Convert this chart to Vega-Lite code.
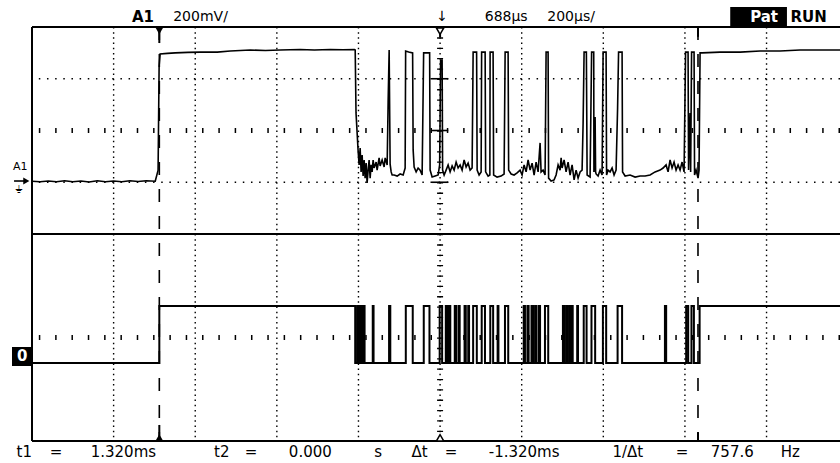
{
"$schema": "https://vega.github.io/schema/vega-lite/v6.json",
"autosize": {"type": "none"},
"padding": {"left": 32, "top": 27, "right": 0, "bottom": 22},
"width": 808,
"height": 414,
"background": "white",
"config": {"view": {"stroke": null}},
"datasets": {
"vgrid": [{"t":-112},{"t":88},{"t":288},{"t":488},{"t":888},{"t":1088},{"t":1288},{"t":1488}],
"center": [{"t":688}],
"frameh": [{"d":0},{"d":4},{"d":8}],
"framev": [{"t":-312}],
"dotrows": [{"d":5},{"d":7}],
"tickrows": [{"d":2},{"d":6}],
"cursors": [{"t":0},{"t":1320}],
"stems": [{"t":0,"a":8,"b":7.69},{"t":0,"a":0,"b":0.31},{"t":1320,"a":8,"b":7.81},{"t":1320,"a":0,"b":0.17},{"t":688,"a":8,"b":7.8}],
"crosses": [{"t":668,"t2":708,"d":5},{"t":668,"t2":708,"d":6},{"t":668,"t2":708,"d":7},{"t":-356,"t2":-331,"d":5.024}],
"markers": [{"t":0,"d":7.93,"k":"fd"},{"t":0,"d":0.06,"k":"fu"},{"t":688,"d":7.92,"k":"hd"},{"t":688,"d":0.06,"k":"hu"},{"t":-326,"d":5.024,"k":"r"}],
"boxes": [{"t":1399,"t2":1538,"d":8.386,"d2":8.02},{"t":-361,"t2":-312,"d":1.816,"d2":1.449}],
"labels": [
{"t":-40,"d":8.19,"txt":"A1","k":"hb"},
{"t":101,"d":8.19,"txt":"200mV/","k":"h"},
{"t":693,"d":8.19,"txt":"↓","k":"h"},
{"t":850,"d":8.19,"txt":"688µs","k":"h"},
{"t":1009,"d":8.19,"txt":"200µs/","k":"h"},
{"t":1482,"d":8.2,"txt":"Pat","k":"w"},
{"t":1591,"d":8.2,"txt":"RUN","k":"hb"},
{"t":-336,"d":1.633,"txt":"0","k":"w"},
{"t":-341,"d":5.295,"txt":"A1","k":"s"},
{"t":-344,"d":4.85,"txt":"⏚","k":"s"},
{"t":-331,"d":-0.203,"txt":"t1","k":"f"},
{"t":-253,"d":-0.203,"txt":"=","k":"f"},
{"t":-88,"d":-0.203,"txt":"1.320ms","k":"f"},
{"t":153,"d":-0.203,"txt":"t2","k":"f"},
{"t":225,"d":-0.203,"txt":"=","k":"f"},
{"t":370,"d":-0.203,"txt":"0.000","k":"f"},
{"t":536,"d":-0.203,"txt":"s","k":"f"},
{"t":638,"d":-0.203,"txt":"Δt","k":"f"},
{"t":715,"d":-0.203,"txt":"=","k":"f"},
{"t":894,"d":-0.203,"txt":"-1.320ms","k":"f"},
{"t":1148,"d":-0.203,"txt":"1/Δt","k":"f"},
{"t":1281,"d":-0.203,"txt":"=","k":"f"},
{"t":1404,"d":-0.203,"txt":"757.6","k":"f"},
{"t":1546,"d":-0.203,"txt":"Hz","k":"f"}
],
"analog": [
{"t":-312,"v":0.004},{"t":-292,"v":0.002},{"t":-272,"v":0.005},{"t":-252,"v":0.002},{"t":-232,"v":0.006},{"t":-212,"v":0.002},{"t":-192,"v":0.005},{"t":-172,"v":0.001},{"t":-152,"v":0.006},{"t":-132,"v":0.002},{"t":-112,"v":0.005},{"t":-92,"v":0.002},{"t":-72,"v":0.006},{"t":-52,"v":0.003},{"t":-32,"v":0.006},{"t":-10,"v":0.004},
{"t":-3,"v":0.047},{"t":-0.5,"v":0.45},{"t":2,"v":0.496},{"t":20,"v":0.498},{"t":39,"v":0.5},{"t":70,"v":0.502},{"t":100,"v":0.503},{"t":142,"v":0.503},{"t":174,"v":0.507},{"t":223,"v":0.511},{"t":260,"v":0.509},{"t":296,"v":0.511},{"t":345,"v":0.513},{"t":380,"v":0.511},{"t":419,"v":0.513},{"t":450,"v":0.512},{"t":478,"v":0.513},
{"t":480,"v":0.511},{"t":482,"v":0.268},{"t":485,"v":0.183},{"t":487,"v":0.125},
{"t":489.6,"v":0.067},{"t":492.1,"v":0.132},{"t":494.5,"v":0.04},{"t":497,"v":0.105},{"t":499.4,"v":0.024},{"t":501.9,"v":0.086},{"t":504.3,"v":0.016},{"t":506.8,"v":0.074},{"t":509.2,"v":-0.003},{"t":511.7,"v":0.047},{"t":514.1,"v":0.086},{"t":516.6,"v":0.016},{"t":519,"v":0.067},{"t":521.5,"v":0.04},{"t":523.9,"v":0.086},{"t":526.4,"v":0.055},{"t":531.3,"v":0.078},{"t":533.7,"v":0.047},{"t":538.6,"v":0.094},{"t":541.1,"v":0.063},{"t":546,"v":0.086},{"t":550.9,"v":0.059},{"t":553.4,"v":0.094},{"t":558.3,"v":0.067},{"t":560.7,"v":0.31},{"t":563.2,"v":0.511},{"t":565.6,"v":0.07},{"t":568.1,"v":0.04},{"t":570.5,"v":0.028},{"t":575.4,"v":0.028},{"t":582.8,"v":0.024},{"t":590.1,"v":0.032},{"t":597.5,"v":0.028},{"t":602.4,"v":0.055},
{"t":603.6,"v":0.507},{"t":611,"v":0.503},{"t":620.7,"v":0.5},{"t":622,"v":0.125},{"t":624.4,"v":0.059},{"t":629.3,"v":0.04},{"t":634.2,"v":0.055},{"t":639.1,"v":0.047},{"t":644,"v":0.028},
{"t":647.7,"v":0.5},{"t":655,"v":0.5},{"t":662.4,"v":0.5},{"t":663.6,"v":0.047},{"t":668.5,"v":0.02},{"t":675.9,"v":0.024},{"t":683.2,"v":0.028},{"t":686.9,"v":0.067},
{"t":689.3,"v":0.472},{"t":693,"v":0.472},{"t":694.2,"v":0.047},{"t":697.9,"v":0.028},{"t":702.8,"v":0.047},{"t":707.7,"v":0.067},{"t":712.6,"v":0.04},{"t":717.5,"v":0.063},{"t":722.4,"v":0.047},{"t":727.3,"v":0.078},{"t":732.2,"v":0.055},{"t":737.1,"v":0.067},{"t":742,"v":0.047},{"t":746.9,"v":0.086},{"t":751.8,"v":0.059},{"t":756.7,"v":0.074},{"t":761.6,"v":0.047},{"t":766.5,"v":0.055},
{"t":769,"v":0.503},{"t":777.5,"v":0.503},{"t":778.8,"v":0.047},{"t":783.6,"v":0.028},{"t":788.6,"v":0.04},
{"t":789.8,"v":0.503},{"t":798.4,"v":0.503},{"t":799.6,"v":0.04},{"t":805.7,"v":0.024},{"t":810,"v":0.028},
{"t":810.6,"v":0.503},{"t":817.9,"v":0.503},{"t":819.2,"v":0.028},{"t":827.7,"v":0.02},{"t":837.5,"v":0.024},{"t":844.9,"v":0.032},
{"t":847.4,"v":0.503},{"t":854.7,"v":0.503},{"t":856,"v":0.047},{"t":862.1,"v":0.032},{"t":869.4,"v":0.028},{"t":876.8,"v":0.036},{"t":884.1,"v":0.047},{"t":889,"v":0.028},{"t":893.9,"v":0.067},{"t":898.8,"v":0.04},{"t":903.7,"v":0.086},{"t":908.6,"v":0.047},{"t":913.5,"v":0.074},{"t":918.4,"v":0.028},{"t":923.3,"v":0.078},{"t":928.2,"v":0.04},{"t":933.1,"v":0.152},{"t":935.5,"v":0.04},{"t":940.4,"v":0.047},{"t":945.3,"v":0.028},
{"t":947.8,"v":0.503},{"t":952.7,"v":0.503},{"t":953.9,"v":0.016},{"t":960.1,"v":0.005},{"t":967.4,"v":0.009},{"t":972.3,"v":0.028},{"t":977.2,"v":0.067},{"t":982.1,"v":0.047},{"t":984.6,"v":0.094},{"t":987,"v":0.055},{"t":991.9,"v":0.086},{"t":996.8,"v":0.04},{"t":1001.7,"v":0.078},{"t":1006.6,"v":0.028},{"t":1011.5,"v":0.067},{"t":1016.4,"v":0.009},{"t":1021.3,"v":0.047},{"t":1026.2,"v":0.016},{"t":1031.1,"v":0.04},{"t":1036,"v":0.047},
{"t":1038.5,"v":0.229},{"t":1040.9,"v":0.503},{"t":1046.5,"v":0.503},{"t":1048.3,"v":0.028},{"t":1055.6,"v":0.02},
{"t":1059.3,"v":0.503},{"t":1064.5,"v":0.503},{"t":1065,"v":0.04},{"t":1067.9,"v":0.252},{"t":1069.1,"v":0.04},{"t":1070.3,"v":0.032},{"t":1075.2,"v":0.024},{"t":1080.1,"v":0.047},{"t":1085,"v":0.028},
{"t":1087.5,"v":0.503},{"t":1094.8,"v":0.503},{"t":1096,"v":0.028},{"t":1099.7,"v":0.047},{"t":1104.6,"v":0.04},{"t":1109.5,"v":0.055},{"t":1114.4,"v":0.028},{"t":1119.3,"v":0.047},{"t":1123,"v":0.287},{"t":1125.4,"v":0.503},{"t":1134,"v":0.503},{"t":1135.2,"v":0.04},{"t":1141.4,"v":0.024},{"t":1153.6,"v":0.028},{"t":1165.9,"v":0.02},{"t":1178.1,"v":0.024},{"t":1190.4,"v":0.024},{"t":1202.6,"v":0.028},{"t":1214.9,"v":0.04},{"t":1227.1,"v":0.047},{"t":1234.5,"v":0.055},{"t":1241.8,"v":0.067},{"t":1246.7,"v":0.04},{"t":1251.6,"v":0.086},{"t":1256.5,"v":0.055},{"t":1261.4,"v":0.078},{"t":1266.3,"v":0.047},{"t":1271.2,"v":0.067},{"t":1276.1,"v":0.047},{"t":1281,"v":0.078},{"t":1285.9,"v":0.04},
{"t":1289.6,"v":0.503},{"t":1295.7,"v":0.503},{"t":1296.9,"v":0.047},{"t":1300.6,"v":0.268},{"t":1302,"v":0.04},{"t":1304.3,"v":0.503},{"t":1310.4,"v":0.503},{"t":1311.6,"v":0.028},{"t":1315.3,"v":0.047},{"t":1320.2,"v":0.016},{"t":1322.6,"v":0.047},{"t":1325.1,"v":0.5},{"t":1330,"v":0.5},{"t":1374.1,"v":0.503},{"t":1423.1,"v":0.503},{"t":1472.1,"v":0.507},{"t":1521.1,"v":0.507},{"t":1570.1,"v":0.511},{"t":1619.1,"v":0.511},{"t":1668,"v":0.511}
],
"digital": [
{"t":-312,"s":0},{"t":0,"s":0},{"t":0,"s":1},{"t":480,"s":1},{"t":480,"s":0},
{"t":485,"s":0},{"t":485,"s":1},{"t":488,"s":1},{"t":488,"s":0},
{"t":492,"s":0},{"t":492,"s":1},{"t":496,"s":1},{"t":496,"s":0},
{"t":499,"s":0},{"t":499,"s":1},{"t":503,"s":1},{"t":503,"s":0},
{"t":523,"s":0},{"t":523,"s":1},{"t":525,"s":1},{"t":525,"s":0},
{"t":563,"s":0},{"t":563,"s":1},{"t":566,"s":1},{"t":566,"s":0},
{"t":604,"s":0},{"t":604,"s":1},{"t":621,"s":1},{"t":621,"s":0},
{"t":648,"s":0},{"t":648,"s":1},{"t":662,"s":1},{"t":662,"s":0},
{"t":687,"s":0},{"t":687,"s":1},{"t":693,"s":1},{"t":693,"s":0},
{"t":702,"s":0},{"t":702,"s":1},{"t":705,"s":1},{"t":705,"s":0},
{"t":709,"s":0},{"t":709,"s":1},{"t":713,"s":1},{"t":713,"s":0},
{"t":724,"s":0},{"t":724,"s":1},{"t":727,"s":1},{"t":727,"s":0},
{"t":733,"s":0},{"t":733,"s":1},{"t":736,"s":1},{"t":736,"s":0},
{"t":748,"s":0},{"t":748,"s":1},{"t":751,"s":1},{"t":751,"s":0},
{"t":757,"s":0},{"t":757,"s":1},{"t":759,"s":1},{"t":759,"s":0},
{"t":769,"s":0},{"t":769,"s":1},{"t":778,"s":1},{"t":778,"s":0},
{"t":790,"s":0},{"t":790,"s":1},{"t":798,"s":1},{"t":798,"s":0},
{"t":811,"s":0},{"t":811,"s":1},{"t":818,"s":1},{"t":818,"s":0},
{"t":829,"s":0},{"t":829,"s":1},{"t":831,"s":1},{"t":831,"s":0},
{"t":847,"s":0},{"t":847,"s":1},{"t":855,"s":1},{"t":855,"s":0},
{"t":893,"s":0},{"t":893,"s":1},{"t":896,"s":1},{"t":896,"s":0},
{"t":902,"s":0},{"t":902,"s":1},{"t":905,"s":1},{"t":905,"s":0},
{"t":912,"s":0},{"t":912,"s":1},{"t":916,"s":1},{"t":916,"s":0},
{"t":921,"s":0},{"t":921,"s":1},{"t":923,"s":1},{"t":923,"s":0},
{"t":929,"s":0},{"t":929,"s":1},{"t":933,"s":1},{"t":933,"s":0},
{"t":945,"s":0},{"t":945,"s":1},{"t":953,"s":1},{"t":953,"s":0},
{"t":989,"s":0},{"t":989,"s":1},{"t":992,"s":1},{"t":992,"s":0},
{"t":997,"s":0},{"t":997,"s":1},{"t":999,"s":1},{"t":999,"s":0},
{"t":1004,"s":0},{"t":1004,"s":1},{"t":1007,"s":1},{"t":1007,"s":0},
{"t":1010,"s":0},{"t":1010,"s":1},{"t":1013,"s":1},{"t":1013,"s":0},
{"t":1024,"s":0},{"t":1024,"s":1},{"t":1026,"s":1},{"t":1026,"s":0},
{"t":1040,"s":0},{"t":1040,"s":1},{"t":1047,"s":1},{"t":1047,"s":0},
{"t":1059,"s":0},{"t":1059,"s":1},{"t":1068,"s":1},{"t":1068,"s":0},
{"t":1087,"s":0},{"t":1087,"s":1},{"t":1095,"s":1},{"t":1095,"s":0},
{"t":1123,"s":0},{"t":1123,"s":1},{"t":1134,"s":1},{"t":1134,"s":0},
{"t":1239,"s":0},{"t":1239,"s":1},{"t":1242,"s":1},{"t":1242,"s":0},
{"t":1291,"s":0},{"t":1291,"s":1},{"t":1296,"s":1},{"t":1296,"s":0},
{"t":1304,"s":0},{"t":1304,"s":1},{"t":1310,"s":1},{"t":1310,"s":0},
{"t":1324,"s":0},{"t":1324,"s":1},{"t":1668,"s":1}
]
},
"encoding": {
"x": {"field": "t", "type": "quantitative", "scale": {"domain": [-312, 1668], "nice": false, "zero": false}, "axis": null}
},
"layer": [
{"data": {"name": "vgrid"}, "mark": {"type": "rule", "color": "black", "strokeWidth": 1.4, "strokeDash": [1.5, 3.675]}, "encoding": {}},
{"data": {"name": "center"}, "mark": {"type": "rule", "color": "black", "strokeWidth": 1.4, "strokeDash": [1.5, 3.675]}, "encoding": {}},
{"data": {"name": "center"}, "mark": {"type": "rule", "color": "black", "strokeWidth": 6, "strokeDash": [1.3, 9.05]}, "encoding": {}},
{"data": {"name": "dotrows"}, "mark": {"type": "rule", "color": "black", "strokeWidth": 1.5, "strokeDash": [1.5, 6.66]},
 "encoding": {"x": null, "y": {"field": "d", "type": "quantitative", "scale": {"domain": [0, 8], "nice": false, "zero": false}, "axis": null}}},
{"data": {"name": "tickrows"}, "mark": {"type": "rule", "color": "black", "strokeWidth": 5, "strokeDash": [1.5, 14.82]},
 "encoding": {"x": null, "y": {"field": "d", "type": "quantitative", "scale": {"domain": [0, 8], "nice": false, "zero": false}, "axis": null}}},
{"data": {"name": "frameh"}, "mark": {"type": "rule", "color": "black", "strokeWidth": 2},
 "encoding": {"x": null, "y": {"field": "d", "type": "quantitative", "scale": {"domain": [0, 8], "nice": false, "zero": false}, "axis": null}}},
{"data": {"name": "framev"}, "mark": {"type": "rule", "color": "black", "strokeWidth": 2}, "encoding": {}},
{"data": {"name": "cursors"}, "mark": {"type": "rule", "color": "black", "strokeWidth": 1.6, "strokeDash": [13, 14]}, "encoding": {}},
{"data": {"name": "stems"}, "mark": {"type": "rule", "color": "black", "strokeWidth": 2},
 "encoding": {"y": {"field": "a", "type": "quantitative", "scale": {"domain": [0, 8], "nice": false, "zero": false}, "axis": null}, "y2": {"field": "b"}}},
{"data": {"name": "crosses"}, "mark": {"type": "rule", "color": "black", "strokeWidth": 1.6},
 "encoding": {"x2": {"field": "t2"}, "y": {"field": "d", "type": "quantitative", "scale": {"domain": [0, 8], "nice": false, "zero": false}, "axis": null}}},
{"data": {"name": "boxes"}, "mark": {"type": "rect", "color": "black"},
 "encoding": {"x2": {"field": "t2"}, "y": {"field": "d", "type": "quantitative", "scale": {"domain": [0, 8], "nice": false, "zero": false}, "axis": null}, "y2": {"field": "d2"}}},
{"data": {"name": "markers"}, "transform": [{"filter": "datum.k == 'fd'"}], "mark": {"type": "point", "shape": "triangle-down", "filled": true, "color": "black", "size": 70, "opacity": 1},
 "encoding": {"y": {"field": "d", "type": "quantitative", "scale": {"domain": [0, 8], "nice": false, "zero": false}, "axis": null}}},
{"data": {"name": "markers"}, "transform": [{"filter": "datum.k == 'fu'"}], "mark": {"type": "point", "shape": "triangle-up", "filled": true, "color": "black", "size": 70, "opacity": 1},
 "encoding": {"y": {"field": "d", "type": "quantitative", "scale": {"domain": [0, 8], "nice": false, "zero": false}, "axis": null}}},
{"data": {"name": "markers"}, "transform": [{"filter": "datum.k == 'hd'"}], "mark": {"type": "point", "shape": "triangle-down", "filled": true, "fill": "white", "stroke": "black", "strokeWidth": 1.5, "size": 55, "opacity": 1},
 "encoding": {"y": {"field": "d", "type": "quantitative", "scale": {"domain": [0, 8], "nice": false, "zero": false}, "axis": null}}},
{"data": {"name": "markers"}, "transform": [{"filter": "datum.k == 'hu'"}], "mark": {"type": "point", "shape": "triangle-up", "filled": true, "fill": "white", "stroke": "black", "strokeWidth": 1.5, "size": 55, "opacity": 1},
 "encoding": {"y": {"field": "d", "type": "quantitative", "scale": {"domain": [0, 8], "nice": false, "zero": false}, "axis": null}}},
{"data": {"name": "markers"}, "transform": [{"filter": "datum.k == 'r'"}], "mark": {"type": "point", "shape": "triangle-right", "filled": true, "color": "black", "size": 50, "opacity": 1},
 "encoding": {"y": {"field": "d", "type": "quantitative", "scale": {"domain": [0, 8], "nice": false, "zero": false}, "axis": null}}},
{"data": {"name": "analog"}, "mark": {"type": "line", "color": "black", "strokeWidth": 1.6},
 "encoding": {"y": {"field": "v", "type": "quantitative", "scale": {"domain": [-1.0, 0.6], "nice": false, "zero": false}, "axis": null}, "order": {"value": null}}},
{"data": {"name": "digital"}, "mark": {"type": "line", "color": "black", "strokeWidth": 2},
 "encoding": {"y": {"field": "s", "type": "quantitative", "scale": {"domain": [-1.3675, 5.892], "nice": false, "zero": false}, "axis": null}, "order": {"value": null}}},
{"data": {"name": "labels"}, "transform": [{"filter": "datum.k == 'hb'"}], "mark": {"type": "text", "font": "DejaVu Sans", "fontSize": 15, "fontWeight": "bold", "color": "black", "baseline": "middle", "align": "center"},
 "encoding": {"y": {"field": "d", "type": "quantitative", "scale": {"domain": [0, 8], "nice": false, "zero": false}, "axis": null}, "text": {"field": "txt"}}},
{"data": {"name": "labels"}, "transform": [{"filter": "datum.k == 'h'"}], "mark": {"type": "text", "font": "DejaVu Sans", "fontSize": 14, "color": "black", "baseline": "middle", "align": "center"},
 "encoding": {"y": {"field": "d", "type": "quantitative", "scale": {"domain": [0, 8], "nice": false, "zero": false}, "axis": null}, "text": {"field": "txt"}}},
{"data": {"name": "labels"}, "transform": [{"filter": "datum.k == 'w'"}], "mark": {"type": "text", "font": "DejaVu Sans", "fontSize": 15, "fontWeight": "bold", "color": "white", "baseline": "middle", "align": "center"},
 "encoding": {"y": {"field": "d", "type": "quantitative", "scale": {"domain": [0, 8], "nice": false, "zero": false}, "axis": null}, "text": {"field": "txt"}}},
{"data": {"name": "labels"}, "transform": [{"filter": "datum.k == 's'"}], "mark": {"type": "text", "font": "DejaVu Sans", "fontSize": 11, "color": "black", "baseline": "middle", "align": "center"},
 "encoding": {"y": {"field": "d", "type": "quantitative", "scale": {"domain": [0, 8], "nice": false, "zero": false}, "axis": null}, "text": {"field": "txt"}}},
{"data": {"name": "labels"}, "transform": [{"filter": "datum.k == 'f'"}], "mark": {"type": "text", "font": "DejaVu Sans", "fontSize": 15, "color": "black", "baseline": "middle", "align": "center"},
 "encoding": {"y": {"field": "d", "type": "quantitative", "scale": {"domain": [0, 8], "nice": false, "zero": false}, "axis": null}, "text": {"field": "txt"}}}
],
"resolve": {"scale": {"y": "independent"}}
}
